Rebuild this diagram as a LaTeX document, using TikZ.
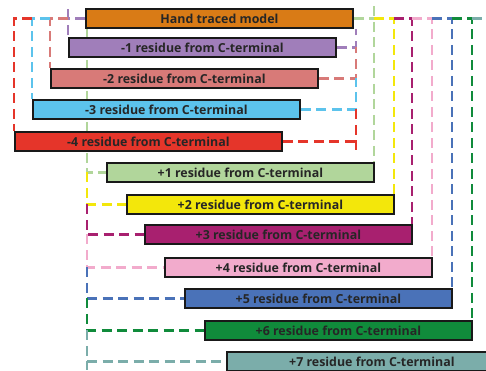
\documentclass[tikz,border=0pt]{standalone}
\usepackage{fontspec}
\setmainfont{Open Sans}
\pgfdeclarelayer{rails}
\pgfsetlayers{rails,main}
\begin{document}
\begin{tikzpicture}[x=1pt,y=-1pt,
  box/.style={draw=black!90, line width=1.8pt, minimum width=267pt, minimum height=19pt,
    inner sep=0pt, anchor=north west, text=black!85,
    font=\fontsize{12.4}{13}\selectfont\bfseries},
  link/.style={line width=2.2pt, dash pattern=on 10pt off 5.5pt}]
\definecolor{cmodel}{HTML}{D97B16}
\definecolor{cm1}{HTML}{A07EBA}
\definecolor{cm2}{HTML}{D87A78}
\definecolor{cm3}{HTML}{5CC3EC}
\definecolor{cm4}{HTML}{E5352A}
\definecolor{cp1}{HTML}{B1D69B}
\definecolor{cp2}{HTML}{F3E70B}
\definecolor{cp3}{HTML}{A8206F}
\definecolor{cp4}{HTML}{F2ABCC}
\definecolor{cp5}{HTML}{4A72B8}
\definecolor{cp6}{HTML}{108B3B}
\definecolor{cp7}{HTML}{7BADAA}
\useasboundingbox (0,0) rectangle (486,370);

% boxes
\node[box, fill=cmodel] (model) at (85,8)  {Hand traced model};
\node[box, fill=cm1]   (m1) at (68,37)  {-1 residue from C-terminal};
\node[box, fill=cm2]   (m2) at (50,68)  {-2 residue from C-terminal};
\node[box, fill=cm3]   (m3) at (32,99)  {-3 residue from C-terminal};
\node[box, fill=cm4]   (m4) at (14,131) {-4 residue from C-terminal};
\node[box, fill=cp1]   (p1) at (106,162) {+1 residue from C-terminal};
\node[box, fill=cp2]   (p2) at (126,194) {+2 residue from C-terminal};
\node[box, fill=cp3]   (p3) at (144,224) {+3 residue from C-terminal};
\node[box, fill=cp4]   (p4) at (164,257) {+4 residue from C-terminal};
\node[box, fill=cp5]   (p5) at (184,288) {+5 residue from C-terminal};
\node[box, fill=cp6]   (p6) at (204,320) {+6 residue from C-terminal};
\node[box, fill=cp7, minimum width=290pt] (p7) at (226,351) {+7 residue from C-terminal};

% junctions on the shared rails
\coordinate (jm1) at (m1.north west |- model.west);
\coordinate (jm2) at (m2.north west |- model.west);
\coordinate (jm3) at (m3.north west |- model.west);
\coordinate (rx)  at ([xshift=2pt]model.south east);
\coordinate (jr1) at (rx |- m1.east);
\coordinate (jr2) at (rx |- m2.east);
\coordinate (jr3) at (rx |- m3.east);
\coordinate (rend) at (rx |- m4.south);
\coordinate (lx)  at ([xshift=2pt]model.south west);
\coordinate (jl1) at (lx |- p1.west);
\coordinate (jl2) at (lx |- p2.west);
\coordinate (jl3) at (lx |- p3.west);
\coordinate (jl4) at (lx |- p4.west);
\coordinate (jl5) at (lx |- p5.west);
\coordinate (jl6) at (lx |- p6.west);
\coordinate (lend) at (lx |- 0,370);
\coordinate (jt1) at ([xshift=-1pt]p1.north east |- model.east);
\coordinate (jt2) at ([xshift=-1pt]p2.north east |- model.east);
\coordinate (jt3) at ([xshift=-1pt]p3.north east |- model.east);
\coordinate (jt4) at ([xshift=-1pt]p4.north east |- model.east);
\coordinate (jt5) at ([xshift=-1pt]p5.north east |- model.east);
\coordinate (jt6) at ([xshift=-1pt]p6.north east |- model.east);
\coordinate (jt7) at ([xshift=20pt]jt6);

\begin{pgfonlayer}{rails}
% left side of the minus boxes
\draw[link, cm1] ([yshift=9pt]jm1) -- (m1.north west) (model.west) -- (jm1);
\draw[link, cm2] (jm1) -| (m2.north west);
\draw[link, cm3] (jm2) -| (m3.north west);
\draw[link, cm4] (jm3) -| (m4.north west);
% right side of the minus boxes
\draw[link, cm1] (m1.east) -| (rx);
\draw[link, cm2] (m2.east) -| (jr1);
\draw[link, cm3] (m3.east) -| (jr2);
\draw[link, cm4] (m4.east) -- (m4.east -| rx) (jr3) -- (rend);
% left side of the plus boxes
\draw[link, cp1] (lx) |- (p1.west);
\draw[link, cp2] (jl1) |- (p2.west);
\draw[link, cp3] (jl2) |- (p3.west);
\draw[link, cp4] (jl3) |- (p4.west);
\draw[link, cp5] (jl4) |- (p5.west);
\draw[link, cp6] (jl5) |- (p6.west);
\draw[link, cp7] (jl6) |- (p7.west) (p7.west -| lx) -- (lend);
% right side of the plus boxes
\draw[link, cp1] (model.east) -- (jt1) ([yshift=12pt]jt1) -- ([xshift=-1pt]p1.north east);
\draw[link, cp2] (jt1) -| ([xshift=-1pt]p2.north east);
\draw[link, cp3] (jt2) -| ([xshift=-1pt]p3.north east);
\draw[link, cp4] (jt3) -| ([xshift=-1pt]p4.north east);
\draw[link, cp5] (jt4) -| ([xshift=-1pt]p5.north east);
\draw[link, cp6] (jt5) -| ([xshift=-1pt]p6.north east);
\draw[link, cp7] (jt6) -| (jt7 |- p7.north);
\end{pgfonlayer}
\end{tikzpicture}
\end{document}
